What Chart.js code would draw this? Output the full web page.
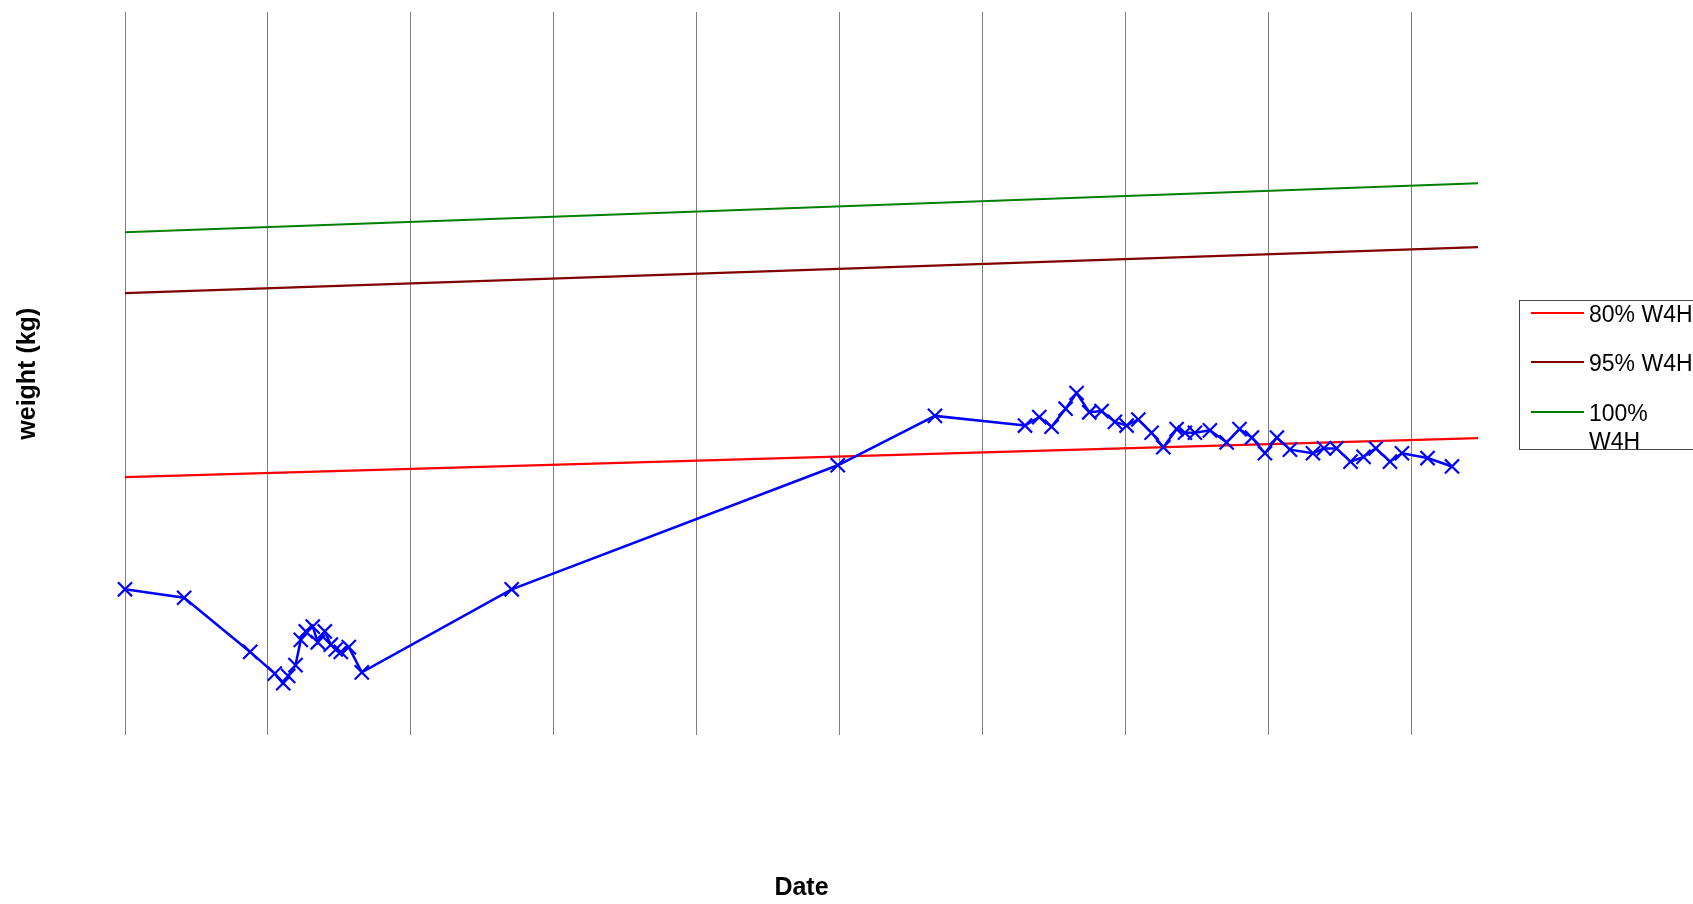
<!DOCTYPE html>
<html>
<head>
<meta charset="utf-8">
<title>weight chart</title>
<script src="https://cdn.jsdelivr.net/npm/chart.js@4.4.0/dist/chart.umd.min.js"></script>
<style>
    html, body { margin: 0; padding: 0; background: #fff; overflow: hidden; }
    #wrap { position: relative; width: 1693px; height: 904px; }
    #legend {
        position: absolute; left: 1519px; top: 300px;
        width: 220px; height: 148px;
        border: 1px solid #444; background: #fff;
        font-family: 'Liberation Sans', Arial, sans-serif; font-size: 23px; color: #000;
    }
    #legend .sw  { position: absolute; left: 11px; width: 53px; height: 2px; }
    #legend .txt { position: absolute; left: 69px; width: 108px; line-height: 28px; white-space: normal; }
</style>
</head>
<body>
<div id="wrap">
    <canvas id="c1"></canvas>
    <div id="legend"></div>
</div>
<script>
/* ── Data (x in grid-interval units along the date axis, y in kg) ── */
const measureX = [
    0.000, 0.414, 0.876, 1.048, 1.107, 1.142, 1.193, 1.230, 1.265, 1.314,
    1.349, 1.398, 1.440, 1.475, 1.510, 1.566, 1.657, 2.706, 4.988, 5.668,
    6.298, 6.398, 6.484, 6.582, 6.659, 6.748, 6.834, 6.927, 7.009, 7.091,
    7.184, 7.266, 7.359, 7.417, 7.487, 7.592, 7.709, 7.799, 7.886, 7.977,
    8.061, 8.152, 8.313, 8.390, 8.478, 8.576, 8.667, 8.753, 8.852, 8.936,
    9.115, 9.286,
];
const measureKg = [
    7.21, 7.14, 6.69, 6.51, 6.43, 6.49, 6.58, 6.79, 6.86, 6.90,
    6.77, 6.86, 6.75, 6.71, 6.69, 6.73, 6.52, 7.21, 8.24, 8.65,
    8.57, 8.64, 8.56, 8.71, 8.84, 8.68, 8.69, 8.60, 8.57, 8.62,
    8.51, 8.39, 8.54, 8.51, 8.51, 8.53, 8.43, 8.54, 8.47, 8.34,
    8.47, 8.37, 8.34, 8.38, 8.38, 8.27, 8.31, 8.38, 8.27, 8.34,
    8.30, 8.23,
];
const refX    = [0, 9.468];
const w4h80   = [8.142, 8.465];
const w4h95   = [9.669, 10.051];
const w4h100  = [10.175, 10.582];

const X_MIN = 0, X_MAX = 9.468;
const Y_MIN = 6, Y_MAX = 12;

const FONT = "'Liberation Sans', Arial, sans-serif";

function pts(xs, ys) {
    return xs.map(function (x, i) { return { x: x, y: ys[i] }; });
}

const refLines = [
    { label: '80% W4H',  data: w4h80,  color: '#ff0000' },
    { label: '95% W4H',  data: w4h95,  color: '#800000' },
    { label: '100% W4H', data: w4h100, color: '#008000' },
];

/* ── Chart ── */
const canvas = document.getElementById('c1');
canvas.width = 1693; canvas.height = 904;

new Chart(canvas, {
    type : 'line',
    data : {
        datasets : [
            {
                label            : 'weight',
                data             : pts(measureX, measureKg),
                borderColor      : '#0000ff',
                backgroundColor  : '#0000ff',
                borderWidth      : 2.5,
                pointStyle       : 'crossRot',
                pointRadius      : 10,
                pointBorderWidth : 2.2,
                pointBorderColor : '#0000ff',
                tension          : 0,
                clip             : false,
                order            : 0,
            },
        ].concat(refLines.map(function (r) {
            return {
                label       : r.label,
                data        : pts(refX, r.data),
                borderColor : r.color,
                borderWidth : 2.2,
                pointRadius : 0,
                tension     : 0,
                order       : 1,
            };
        })),
    },
    options : {
        responsive          : false,
        animation           : false,
        devicePixelRatio    : 1,
        layout  : { padding: { top: 12.5, right: 215, bottom: 0, left: 13 } },
        plugins : {
            legend  : { display: false },
            tooltip : { enabled: false },
        },
        scales : {
            x : {
                type   : 'linear',
                min    : X_MIN,
                max    : X_MAX,
                ticks  : { display: false, stepSize: 1, includeBounds: false },
                grid   : { color: '#000', lineWidth: 1, drawTicks: false },
                border : { display: false, dash: [1, 1] },
                title  : {
                    display : true,
                    text    : 'Date',
                    color   : '#000',
                    font    : { family: FONT, size: 25, weight: 'bold' },
                    padding : { top: 138, bottom: 1 },
                },
            },
            y : {
                min    : Y_MIN,
                max    : Y_MAX,
                ticks  : { display: false },
                grid   : { display: false, drawTicks: false },
                border : { display: false },
                title  : {
                    display : true,
                    text    : 'weight (kg)',
                    color   : '#000',
                    font    : { family: FONT, size: 25, weight: 'bold' },
                    padding : { top: 0, bottom: 82 },
                },
            },
        },
    },
});

/* ── Legend (HTML, so "100% W4H" can wrap like the original) ── */
const legend = document.getElementById('legend');
const rowCentres = [11.7, 61, 111];
refLines.forEach(function (r, i) {
    const sw = document.createElement('div');
    sw.className = 'sw';
    sw.style.top = (rowCentres[i] - 1) + 'px';
    sw.style.background = r.color;
    legend.appendChild(sw);

    const t = document.createElement('div');
    t.className = 'txt';
    t.style.top = (rowCentres[i] - 13) + 'px';
    t.textContent = r.label;
    legend.appendChild(t);
});
</script>
</body>
</html>
